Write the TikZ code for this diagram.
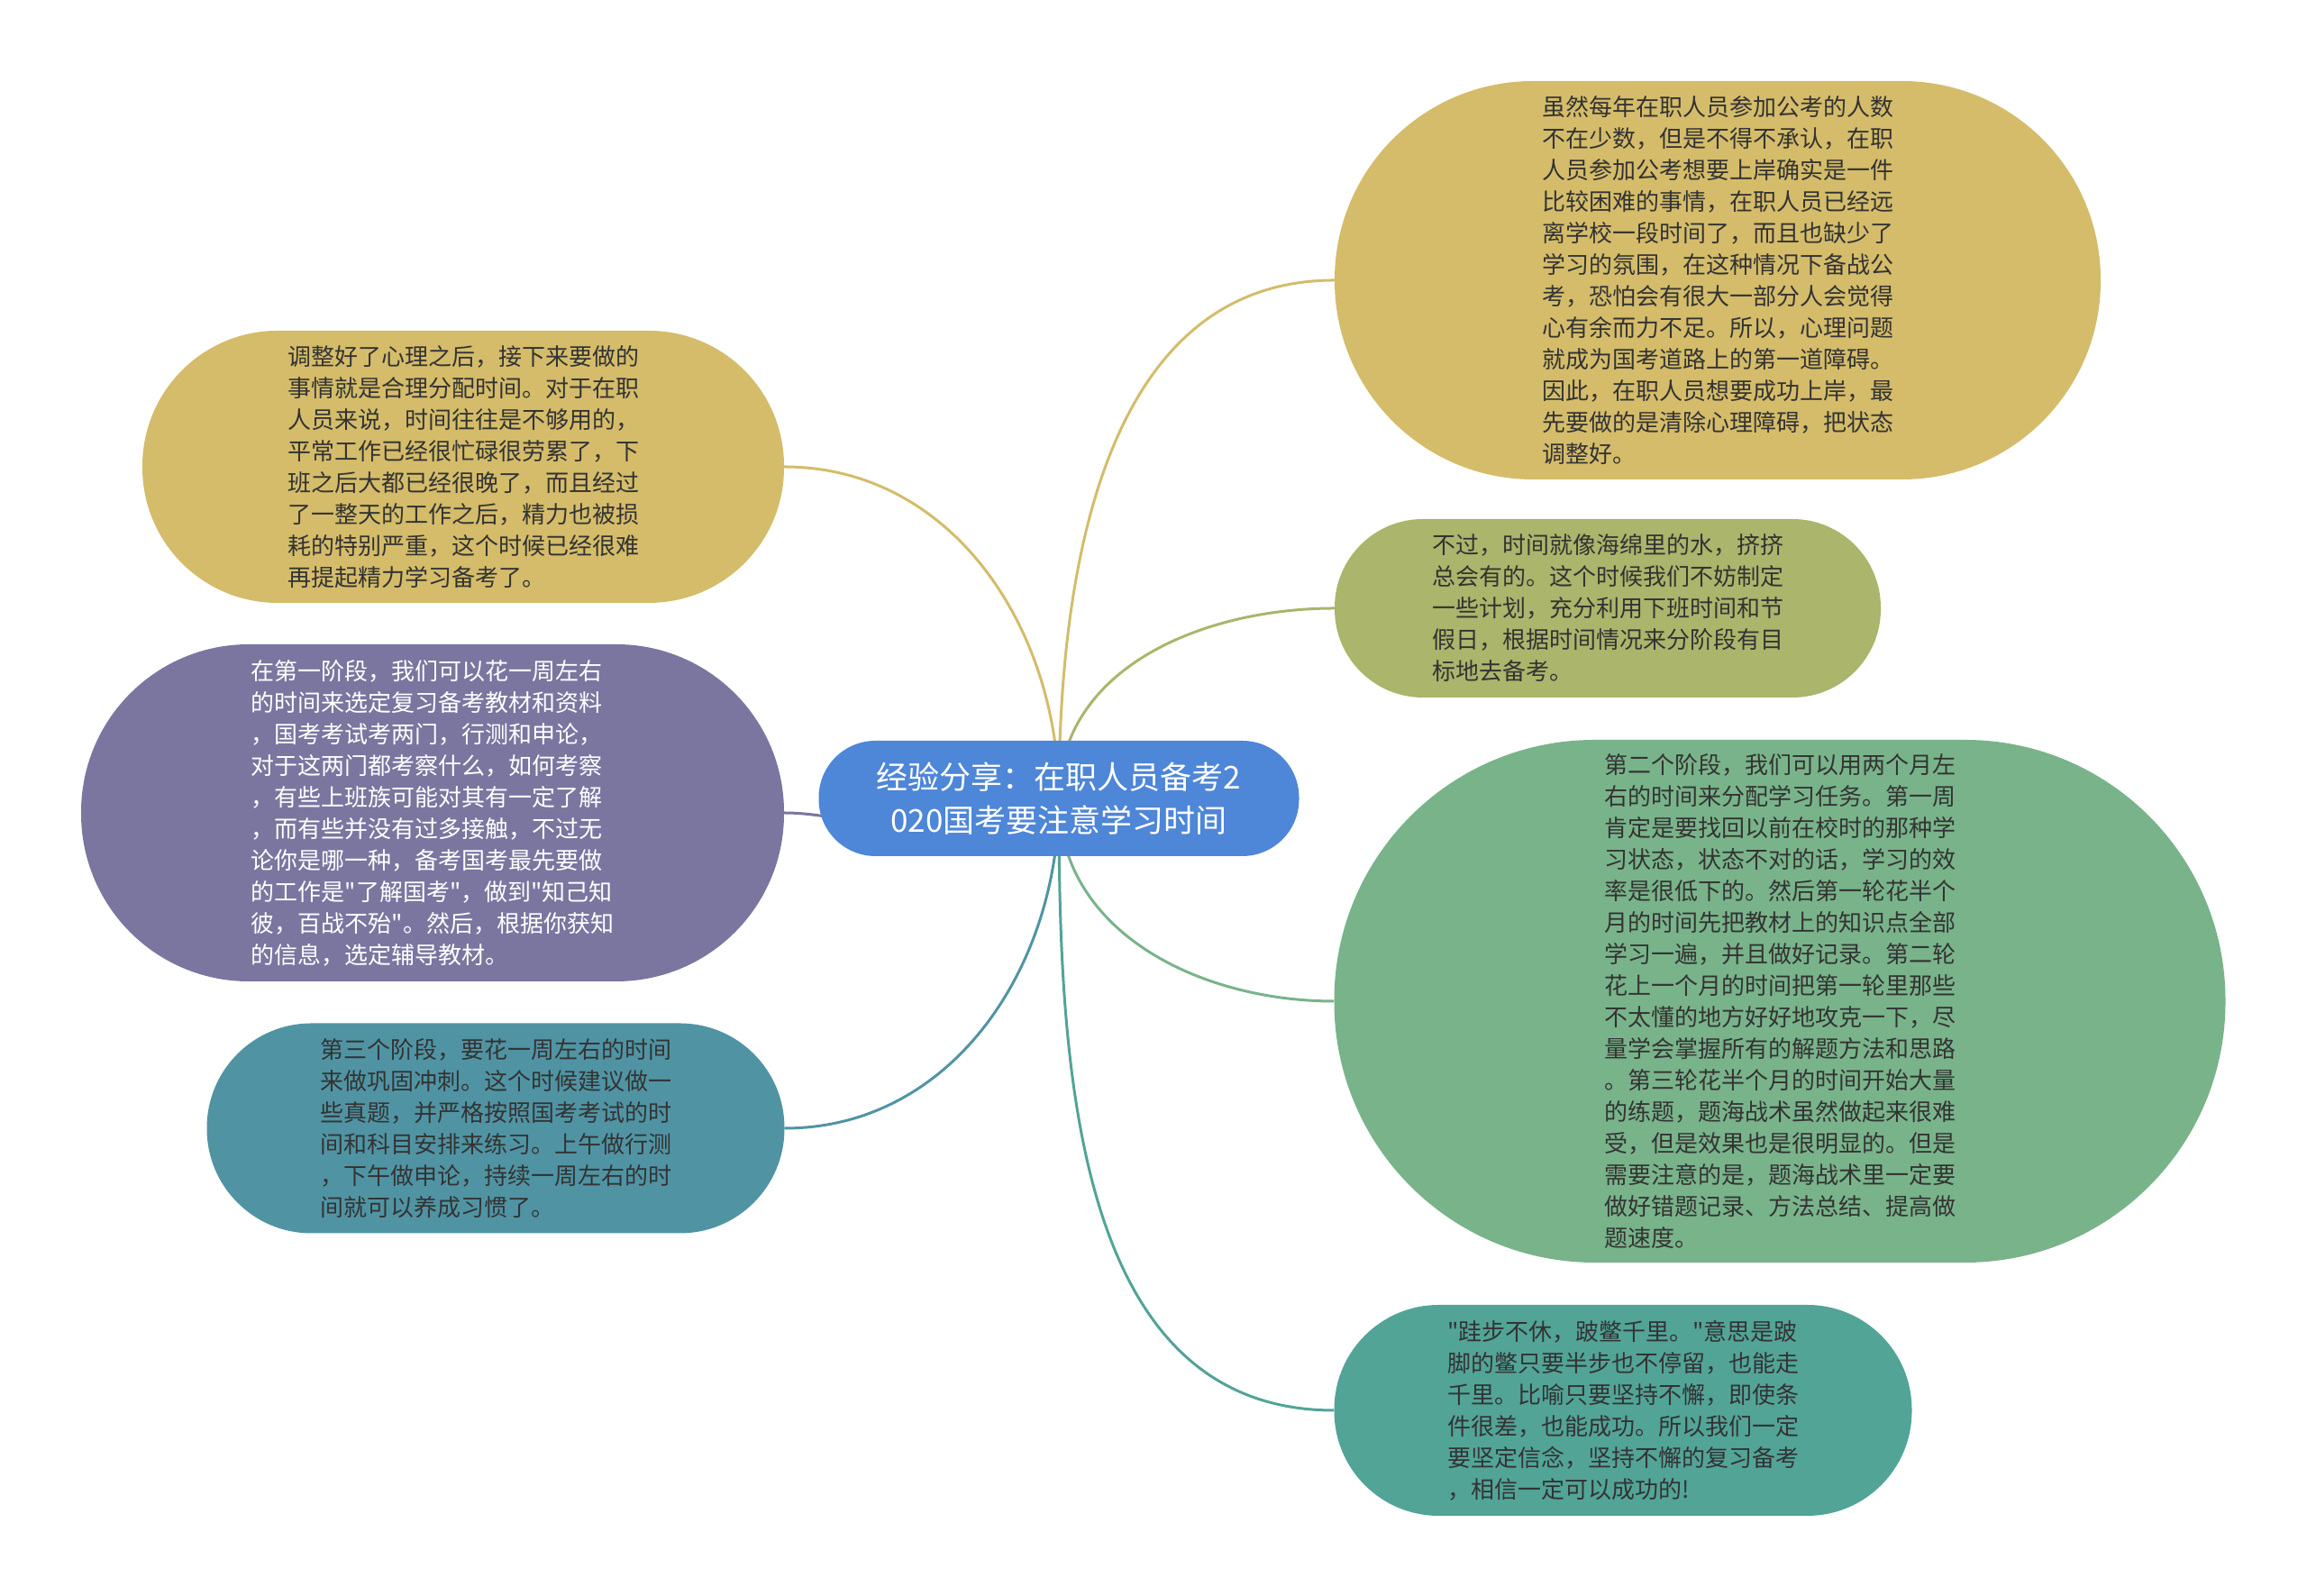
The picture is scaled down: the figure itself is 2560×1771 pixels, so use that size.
\documentclass[tikz,border=0pt]{standalone}
\usepackage{fontspec}
\setmainfont{Noto Sans CJK SC}[Ligatures=TeXOff]
\usetikzlibrary{backgrounds}

\definecolor{hubblue}{HTML}{4E86D8}
\definecolor{leafgold}{HTML}{D4BC6A}
\definecolor{leafolive}{HTML}{ABB56B}
\definecolor{leafgreen}{HTML}{79B38A}
\definecolor{leafteal}{HTML}{52A497}
\definecolor{leafpurple}{HTML}{7A76A0}
\definecolor{leafblue}{HTML}{5094A4}

\tikzstyle{hub}=[fill=hubblue,text=white,align=center,font=\fontsize{35}{48}\selectfont]
\tikzstyle{leaf}=[align=left,text=black!80,font=\fontsize{26}{35}\selectfont]
\tikzstyle{link}=[line width=3pt]

\begin{document}
\begin{tikzpicture}[x=1pt,y=1pt]

   \useasboundingbox (0,0) rectangle (2560,1771);

   % Centre topic

   \node[hub,minimum width=533,minimum height=128,rounded corners=63] (hub) at (1175,885)
{经验分享：在职人员备考2\\020国考要注意学习时间};

   % Right branches

   \node[leaf,fill=leafgold,minimum width=850,minimum height=442,rounded corners=220] (rt1) at (1906,1460)
{虽然每年在职人员参加公考的人数\\不在少数，但是不得不承认，在职\\人员参加公考想要上岸确实是一件\\比较困难的事情，在职人员已经远\\离学校一段时间了，而且也缺少了\\学习的氛围，在这种情况下备战公\\考，恐怕会有很大一部分人会觉得\\心有余而力不足。所以，心理问题\\就成为国考道路上的第一道障碍。\\因此，在职人员想要成功上岸，最\\先要做的是清除心理障碍，把状态\\调整好。};

   \node[leaf,fill=leafolive,minimum width=606,minimum height=198,rounded corners=98] (rt2) at (1784,1096)
{不过，时间就像海绵里的水，挤挤\\总会有的。这个时候我们不妨制定\\一些计划，充分利用下班时间和节\\假日，根据时间情况来分阶段有目\\标地去备考。};

   \node[leaf,fill=leafgreen,minimum width=989,minimum height=580,rounded corners=289] (rt3) at (1975,660)
{第二个阶段，我们可以用两个月左\\右的时间来分配学习任务。第一周\\肯定是要找回以前在校时的那种学\\习状态，状态不对的话，学习的效\\率是很低下的。然后第一轮花半个\\月的时间先把教材上的知识点全部\\学习一遍，并且做好记录。第二轮\\花上一个月的时间把第一轮里那些\\不太懂的地方好好地攻克一下，尽\\量学会掌握所有的解题方法和思路\\。第三轮花半个月的时间开始大量\\的练题，题海战术虽然做起来很难\\受，但是效果也是很明显的。但是\\需要注意的是，题海战术里一定要\\做好错题记录、方法总结、提高做\\题速度。};

   \node[leaf,fill=leafteal,minimum width=641,minimum height=234,rounded corners=116] (rt4) at (1801,206)
{"跬步不休，跛鳖千里。"意思是跛\\脚的鳖只要半步也不停留，也能走\\千里。比喻只要坚持不懈，即使条\\件很差，也能成功。所以我们一定\\要坚定信念，坚持不懈的复习备考\\，相信一定可以成功的!};

   % Left branches

   \node[leaf,fill=leafgold,minimum width=712,minimum height=302,rounded corners=150] (lf1) at (514,1253)
{调整好了心理之后，接下来要做的\\事情就是合理分配时间。对于在职\\人员来说，时间往往是不够用的，\\平常工作已经很忙碌很劳累了，下\\班之后大都已经很晚了，而且经过\\了一整天的工作之后，精力也被损\\耗的特别严重，这个时候已经很难\\再提起精力学习备考了。};

   \node[leaf,fill=leafpurple,text=white,minimum width=780,minimum height=374,rounded corners=186] (lf2) at (480,869)
{在第一阶段，我们可以花一周左右\\的时间来选定复习备考教材和资料\\，国考考试考两门，行测和申论，\\对于这两门都考察什么，如何考察\\，有些上班族可能对其有一定了解\\，而有些并没有过多接触，不过无\\论你是哪一种，备考国考最先要做\\的工作是"了解国考"，做到"知己知\\彼，百战不殆"。然后，根据你获知\\的信息，选定辅导教材。};

   \node[leaf,fill=leafblue,minimum width=641,minimum height=233,rounded corners=116] (lf3) at (550,519)
{第三个阶段，要花一周左右的时间\\来做巩固冲刺。这个时候建议做一\\些真题，并严格按照国考考试的时\\间和科目安排来练习。上午做行测\\，下午做申论，持续一周左右的时\\间就可以养成习惯了。};

   % Connectors

   \begin{pgfonlayer}{background}
   \draw[link,leafgold] (hub.center) to[out=90,in=180] (rt1.west);
   \draw[link,leafolive] (hub.center) to[out=90,in=180] (rt2.west);
   \draw[link,leafgreen] (hub.center) to[out=-90,in=180] (rt3.west);
   \draw[link,leafteal] (hub.center) to[out=-90,in=180] (rt4.west);
   \draw[link,leafgold] (hub.center) to[out=90,in=0] (lf1.east);
   \draw[link,leafpurple] (hub.center) to[out=-90,in=0] (lf2.east);
   \draw[link,leafblue] (hub.center) to[out=-90,in=0] (lf3.east);
   \end{pgfonlayer}

\end{tikzpicture}
\end{document}
